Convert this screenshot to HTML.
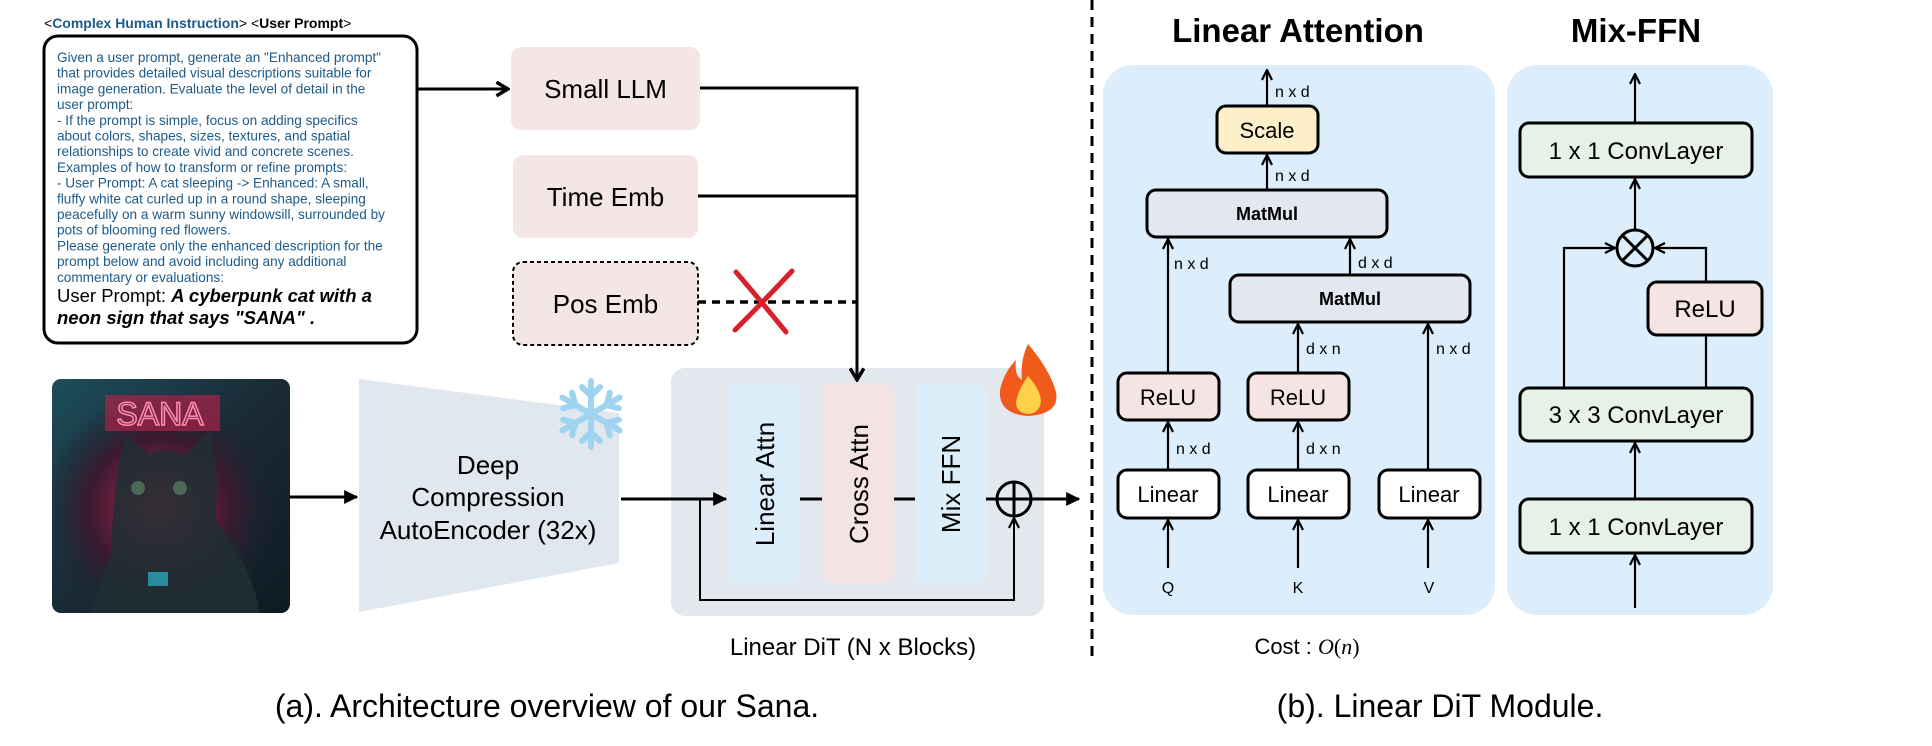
<!DOCTYPE html>
<html><head><meta charset="utf-8"><style>
html,body{margin:0;padding:0;background:#fff;}
svg{display:block;font-family:"Liberation Sans",sans-serif;}
</style></head><body>
<svg width="1932" height="746" viewBox="0 0 1932 746" xmlns="http://www.w3.org/2000/svg">
<defs>
<marker id="ah" viewBox="0 0 12 12" refX="11" refY="6" markerWidth="12" markerHeight="12" markerUnits="userSpaceOnUse" orient="auto">
<polyline points="1,1 11,6 1,11" fill="none" stroke="#000" stroke-width="2.2"/></marker>
<marker id="ab" viewBox="0 0 14 14" refX="13" refY="7" markerWidth="16" markerHeight="16" markerUnits="userSpaceOnUse" orient="auto">
<polyline points="2,1 12,7 2,13" fill="none" stroke="#000" stroke-width="3"/></marker>
<marker id="tri" viewBox="0 0 12 12" refX="11" refY="6" markerWidth="14" markerHeight="14" markerUnits="userSpaceOnUse" orient="auto">
<path d="M0,0 L12,6 L0,12 Z" fill="#000"/></marker>
<linearGradient id="catbg" x1="0" y1="0" x2="1" y2="1">
<stop offset="0" stop-color="#1d4d5a"/><stop offset="0.5" stop-color="#1a2a35"/><stop offset="1" stop-color="#0e1a22"/></linearGradient>
<radialGradient id="catglow" cx="0.45" cy="0.55" r="0.5">
<stop offset="0" stop-color="#b0264f"/><stop offset="0.6" stop-color="#3a1a30"/><stop offset="1" stop-color="#1a2530" stop-opacity="0"/></radialGradient>
</defs>

<text x="44" y="28" font-size="14"><tspan fill="#000">&lt;</tspan><tspan fill="#1d5a8a" font-weight="bold">Complex Human Instruction</tspan><tspan>&gt; &lt;</tspan><tspan font-weight="bold">User Prompt</tspan>&gt;</text>
<rect x="44" y="36" width="373" height="307" rx="14" fill="#fff" stroke="#000" stroke-width="3"/>
<g font-size="13.6" fill="#1d5a8a">
<text x="57" y="62">Given a user prompt, generate an "Enhanced prompt"</text>
<text x="57" y="77.7">that provides detailed visual descriptions suitable for</text>
<text x="57" y="93.4">image generation. Evaluate the level of detail in the</text>
<text x="57" y="109.1">user prompt:</text>
<text x="57" y="124.8">- If the prompt is simple, focus on adding specifics</text>
<text x="57" y="140.5">about colors, shapes, sizes, textures, and spatial</text>
<text x="57" y="156.2">relationships to create vivid and concrete scenes.</text>
<text x="57" y="171.9">Examples of how to transform or refine prompts:</text>
<text x="57" y="187.6">- User Prompt: A cat sleeping -&gt; Enhanced: A small,</text>
<text x="57" y="203.3">fluffy white cat curled up in a round shape, sleeping</text>
<text x="57" y="219">peacefully on a warm sunny windowsill, surrounded by</text>
<text x="57" y="234.7">pots of blooming red flowers.</text>
<text x="57" y="250.4">Please generate only the enhanced description for the</text>
<text x="57" y="266.1">prompt below and avoid including any additional</text>
<text x="57" y="281.8">commentary or evaluations:</text>
</g>
<text x="57" y="302" font-size="18.5">User Prompt: <tspan font-weight="bold" font-style="italic">A cyberpunk cat with a</tspan></text>
<text x="57" y="324" font-size="18.5" font-weight="bold" font-style="italic">neon sign that says "SANA" .</text>

<rect x="511" y="47" width="189" height="83" rx="10" fill="#f5e6e6"/>
<text x="605.5" y="98" font-size="26" text-anchor="middle">Small LLM</text>
<rect x="513" y="155" width="185" height="83" rx="10" fill="#f5e6e6"/>
<text x="605.5" y="206" font-size="26" text-anchor="middle">Time Emb</text>
<rect x="513" y="262" width="185" height="83" rx="10" fill="#f5e6e6" stroke="#000" stroke-width="2" stroke-dasharray="4,3"/>
<text x="605.5" y="313" font-size="26" text-anchor="middle">Pos Emb</text>

<line x1="417" y1="89" x2="509" y2="89" stroke="#000" stroke-width="3" marker-end="url(#ab)"/>
<line x1="698" y1="196" x2="857" y2="196" stroke="#000" stroke-width="3"/>
<line x1="698" y1="302" x2="857" y2="302" stroke="#000" stroke-width="3.5" stroke-dasharray="8,6"/>
<path d="M736,272 Q760,300 786,332" stroke="#d8202a" stroke-width="5" fill="none" stroke-linecap="round"/>
<path d="M792,271 Q765,300 735,330" stroke="#d8202a" stroke-width="5" fill="none" stroke-linecap="round"/>

<rect x="52" y="379" width="238" height="234" rx="9" fill="url(#catbg)"/>
<rect x="52" y="379" width="238" height="234" rx="9" fill="url(#catglow)"/>
<rect x="105" y="395" width="115" height="36" fill="#c0204a" opacity="0.6"/>
<text x="160" y="425" font-size="32" text-anchor="middle" fill="none" stroke="#ff8fb0" stroke-width="1.5">SANA</text>
<path d="M110,560 Q115,470 125,435 L150,455 Q165,445 185,455 L210,430 Q220,470 215,520 Q250,560 260,613 L90,613 Q100,580 110,560 Z" fill="#1f2f33" opacity="0.85"/>
<circle cx="138" cy="488" r="7" fill="#4a6a55"/><circle cx="180" cy="488" r="7" fill="#4a6a55"/>
<rect x="148" y="572" width="20" height="14" fill="#2a8aa0"/>

<polygon points="359,379 619,413 619,563 359,612" fill="#e1e7ee"/>
<text font-size="26" text-anchor="middle" fill="#000"><tspan x="488" y="474">Deep</tspan><tspan x="488" y="506">Compression</tspan><tspan x="488" y="539">AutoEncoder (32x)</tspan></text>
<g transform="translate(591,414)" stroke="#9fd4f0" stroke-width="6" stroke-linecap="round" fill="none">
<g id="arm"><line x1="0" y1="0" x2="0" y2="-33"/><polyline points="-9,-27 0,-18 9,-27"/></g>
<use href="#arm" transform="rotate(60)"/><use href="#arm" transform="rotate(120)"/><use href="#arm" transform="rotate(180)"/><use href="#arm" transform="rotate(240)"/><use href="#arm" transform="rotate(300)"/>
</g>
<line x1="290" y1="497" x2="357" y2="497" stroke="#000" stroke-width="3" marker-end="url(#tri)"/>

<rect x="671" y="368" width="373" height="248" rx="14" fill="#e3e8ef"/>
<rect x="728" y="383" width="72" height="201" rx="12" fill="#dceefa"/>
<rect x="822" y="383" width="72" height="201" rx="12" fill="#f3e3e2"/>
<rect x="915" y="383" width="71" height="201" rx="12" fill="#dceefa"/>
<polyline points="700,88 857,88 857,381" fill="none" stroke="#000" stroke-width="3" marker-end="url(#ab)"/>
<text transform="translate(774,484) rotate(-90)" font-size="26" text-anchor="middle">Linear Attn</text>
<text transform="translate(868,484) rotate(-90)" font-size="26" text-anchor="middle">Cross Attn</text>
<text transform="translate(960,484) rotate(-90)" font-size="26" text-anchor="middle">Mix FFN</text>
<line x1="621" y1="499" x2="726" y2="499" stroke="#000" stroke-width="3" marker-end="url(#tri)"/>
<line x1="800" y1="499" x2="822" y2="499" stroke="#000" stroke-width="3"/>
<line x1="894" y1="499" x2="915" y2="499" stroke="#000" stroke-width="3"/>
<line x1="986" y1="499" x2="1079" y2="499" stroke="#000" stroke-width="3" marker-end="url(#tri)"/>
<circle cx="1014" cy="499" r="17" fill="none" stroke="#000" stroke-width="3"/>
<line x1="1014" y1="482" x2="1014" y2="516" stroke="#000" stroke-width="3"/>
<polyline points="700,499 700,600 1014,600 1014,518" fill="none" stroke="#000" stroke-width="2" marker-end="url(#ah)"/>
<path d="M1028,344 Q1050,370 1056,392 Q1060,414 1028,416 Q998,414 1000,390 Q1004,372 1016,360 Q1014,376 1022,380 Q1020,360 1028,344 Z" fill="#f05a1a"/>
<path d="M1028,376 Q1044,394 1040,406 Q1036,414 1028,414 Q1016,413 1016,402 Q1018,390 1028,376 Z" fill="#ffd04a"/>
<text x="853" y="655" font-size="24" text-anchor="middle">Linear DiT (N x Blocks)</text>
<text x="547" y="717" font-size="32" text-anchor="middle">(a). Architecture overview of our Sana.</text>

<line x1="1092" y1="0" x2="1092" y2="660" stroke="#000" stroke-width="3" stroke-dasharray="10,7"/>

<text x="1298" y="42" font-size="33" font-weight="bold" text-anchor="middle">Linear Attention</text>
<text x="1636" y="42" font-size="33" font-weight="bold" text-anchor="middle">Mix-FFN</text>
<rect x="1103" y="65" width="392" height="550" rx="30" fill="#dceefb"/>
<rect x="1507" y="65" width="266" height="550" rx="30" fill="#dceefb"/>

<g stroke="#000" stroke-width="3">
<rect x="1217" y="106" width="101" height="47" rx="9" fill="#fdf0c8"/>
<rect x="1147" y="190" width="240" height="47" rx="9" fill="#e3e8f0"/>
<rect x="1230" y="275" width="240" height="47" rx="9" fill="#e3e8f0"/>
<rect x="1118" y="373" width="101" height="47" rx="9" fill="#f5e4e4"/>
<rect x="1248" y="373" width="101" height="47" rx="9" fill="#f5e4e4"/>
<rect x="1118" y="470" width="101" height="48" rx="9" fill="#fff"/>
<rect x="1248" y="470" width="101" height="48" rx="9" fill="#fff"/>
<rect x="1379" y="470" width="101" height="48" rx="9" fill="#fff"/>
</g>
<g stroke="#000" stroke-width="2.2" fill="none">
<line x1="1267" y1="106" x2="1267" y2="70" marker-end="url(#ah)"/>
<line x1="1267" y1="190" x2="1267" y2="155" marker-end="url(#ah)"/>
<line x1="1168" y1="373" x2="1168" y2="239" marker-end="url(#ah)"/>
<line x1="1350" y1="275" x2="1350" y2="239" marker-end="url(#ah)"/>
<line x1="1298" y1="373" x2="1298" y2="324" marker-end="url(#ah)"/>
<line x1="1428" y1="470" x2="1428" y2="324" marker-end="url(#ah)"/>
<line x1="1168" y1="470" x2="1168" y2="422" marker-end="url(#ah)"/>
<line x1="1298" y1="470" x2="1298" y2="422" marker-end="url(#ah)"/>
<line x1="1168" y1="568" x2="1168" y2="520" marker-end="url(#ah)"/>
<line x1="1298" y1="568" x2="1298" y2="520" marker-end="url(#ah)"/>
<line x1="1428" y1="568" x2="1428" y2="520" marker-end="url(#ah)"/>
</g>
<g font-size="22" text-anchor="middle">
<text x="1267" y="138">Scale</text>
<text x="1168" y="405">ReLU</text><text x="1298" y="405">ReLU</text>
<text x="1168" y="502">Linear</text><text x="1298" y="502">Linear</text><text x="1429" y="502">Linear</text>
</g>
<text x="1267" y="220" font-size="18" font-weight="bold" text-anchor="middle">MatMul</text>
<text x="1350" y="305" font-size="18" font-weight="bold" text-anchor="middle">MatMul</text>
<g font-size="16">
<text x="1275" y="97">n x d</text><text x="1275" y="181">n x d</text>
<text x="1174" y="269">n x d</text><text x="1358" y="268">d x d</text>
<text x="1306" y="354">d x n</text><text x="1436" y="354">n x d</text>
<text x="1176" y="454">n x d</text><text x="1306" y="454">d x n</text>
</g>
<g font-size="16" text-anchor="middle"><text x="1168" y="593">Q</text><text x="1298" y="593">K</text><text x="1429" y="593">V</text></g>
<text x="1307" y="654" font-size="22" text-anchor="middle">Cost : <tspan font-family="Liberation Serif,serif" font-style="italic">O</tspan><tspan font-family="Liberation Serif,serif">(</tspan><tspan font-family="Liberation Serif,serif" font-style="italic">n</tspan><tspan font-family="Liberation Serif,serif">)</tspan></text>
<text x="1440" y="717" font-size="32" text-anchor="middle">(b). Linear DiT Module.</text>

<g stroke="#000" stroke-width="3">
<rect x="1520" y="123" width="232" height="54" rx="9" fill="#e6f2e8"/>
<rect x="1648" y="282" width="114" height="53" rx="9" fill="#f5e4e4"/>
<rect x="1520" y="388" width="232" height="53" rx="9" fill="#e6f2e8"/>
<rect x="1520" y="499" width="232" height="54" rx="9" fill="#e6f2e8"/>
<circle cx="1635" cy="248" r="18" fill="none"/>
<line x1="1622" y1="235" x2="1648" y2="261"/><line x1="1648" y1="235" x2="1622" y2="261"/>
</g>
<g stroke="#000" stroke-width="2.2" fill="none">
<line x1="1635" y1="123" x2="1635" y2="74" marker-end="url(#ah)"/>
<line x1="1635" y1="230" x2="1635" y2="179" marker-end="url(#ah)"/>
<polyline points="1564,388 1564,248 1615,248" marker-end="url(#ah)"/>
<polyline points="1706,282 1706,248 1655,248" marker-end="url(#ah)"/>
<line x1="1706" y1="388" x2="1706" y2="335"/>
<line x1="1635" y1="499" x2="1635" y2="443" marker-end="url(#ah)"/>
<line x1="1635" y1="608" x2="1635" y2="555" marker-end="url(#ah)"/>
</g>
<g font-size="24" text-anchor="middle">
<text x="1636" y="159">1 x 1 ConvLayer</text>
<text x="1705" y="317">ReLU</text>
<text x="1636" y="423">3 x 3 ConvLayer</text>
<text x="1636" y="535">1 x 1 ConvLayer</text>
</g>
</svg>
</body></html>
